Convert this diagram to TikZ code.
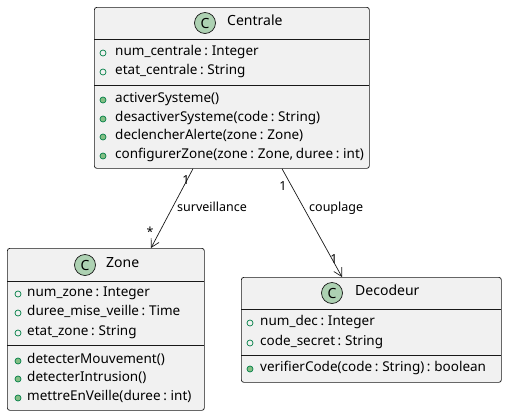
\documentclass[tikz,border=0pt]{standalone}
\usepackage{fontspec}
\setmainfont{Noto Sans}[WordSpace=0.75]
\usepackage{tikz}
\usetikzlibrary{arrows.meta,positioning}

\definecolor{boxfill}{HTML}{F1F1F1}
\definecolor{boxdraw}{HTML}{181818}
\definecolor{spotfill}{HTML}{ADD1B2}
\definecolor{pubgreen}{HTML}{038048}
\definecolor{pubfill}{HTML}{84BE84}

\begin{document}
\begin{tikzpicture}[
      x=1pt, y=-1pt,
      font=\fontsize{13.5}{15}\selectfont,
      classbox/.style={draw=boxdraw, fill=boxfill, rounded corners=2.5pt,
                       line width=0.7pt, inner sep=0pt, anchor=north west},
      sep/.style={draw=boxdraw, line width=0.7pt},
      spot/.style={circle, draw=boxdraw, fill=spotfill, line width=0.7pt,
                   minimum size=21pt, inner sep=0pt,
                   font=\fontsize{14}{16}\selectfont\bfseries},
      cname/.style={anchor=mid west, inner sep=0pt, font=\fontsize{14}{16}\selectfont},
      member/.style={anchor=mid west, inner sep=0pt},
      field/.style={circle, draw=pubgreen, line width=0.7pt, minimum size=6pt, inner sep=0pt},
      meth/.style={field, fill=pubfill},
      lbl/.style={inner sep=0pt, font=\fontsize{12.5}{15}\selectfont},
      arr/.style={-{Straight Barb[length=8pt,width=9pt]}, draw=boxdraw, line width=0.7pt}
    ]
    \useasboundingbox (0,0) rectangle (507,416);

    % Centrale
    \node[classbox, minimum width=275pt, minimum height=161pt] (cent) at (94,7) {};
    \node[spot] (centC) at (205,23) {C};
    \node[cname] (centN) at (227,23) {Centrale};
    \draw[sep] (94,39) -- (369,39);
    \draw[sep] (94,85) -- (369,85);
    \foreach \y/\txt in {53/{num\_centrale : Integer}, 72/{etat\_centrale : String}} {
      \node[field] at (103,\y) {};
      \node[member] at (115,\y) {\txt};
    }
    \foreach \y/\txt in {100/{activerSysteme()},
                         119/{desactiverSysteme(code : String)},
                         137/{declencherAlerte(zone : Zone)},
                         156/{configurerZone(zone : Zone, duree : int)}} {
      \node[meth] at (103,\y) {};
      \node[member] at (115,\y) {\txt};
    }

    % Zone
    \node[classbox, minimum width=197pt, minimum height=162pt] (zone) at (7,248) {};
    \node[spot] (zoneC) at (85,265) {C};
    \node[cname] (zoneN) at (106,265) {Zone};
    \draw[sep] (7,281) -- (204,281);
    \draw[sep] (7,345) -- (204,345);
    \foreach \y/\txt in {294/{num\_zone : Integer},
                         313/{duree\_mise\_veille : Time},
                         333/{etat\_zone : String}} {
      \node[field] at (18,\y) {};
      \node[member] at (27,\y) {\txt};
    }
    \foreach \y/\txt in {361/{detecterMouvement()},
                         379/{detecterIntrusion()},
                         398/{mettreEnVeille(duree : int)}} {
      \node[meth] at (18,\y) {};
      \node[member] at (27,\y) {\txt};
    }

    % Decodeur
    \node[classbox, minimum width=260pt, minimum height=105pt] (deco) at (241,277) {};
    \node[spot] (decoC) at (332,293) {C};
    \node[cname] (decoN) at (355,293) {Decodeur};
    \draw[sep] (241,309) -- (501,309);
    \draw[sep] (241,355) -- (501,355);
    \foreach \y/\txt in {323/{num\_dec : Integer}, 343/{code\_secret : String}} {
      \node[field] at (250,\y) {};
      \node[member] at (260,\y) {\txt};
    }
    \node[meth] at (250,369) {};
    \node[member] at (260,369) {verifierCode(code : String) : boolean};

    % associations
    \draw[arr] ([xshift=99pt]cent.south west) -- ([xshift=144pt]zone.north west);
    \node[lbl, anchor=mid west] (survL) at (177,209) {surveillance};
    \node[lbl] (survA) at (186,180) {1};
    \node[lbl] (survB) at (150,232) {*};

    \draw[arr] ([xshift=188pt]cent.south west) -- ([xshift=101pt]deco.north west);
    \node[lbl, anchor=mid west] (coupL) at (309,209) {couplage};
    \node[lbl] (coupA) at (283,186) {1};
    \node[lbl] (coupB) at (334,259) {1};
  \end{tikzpicture}
\end{document}
